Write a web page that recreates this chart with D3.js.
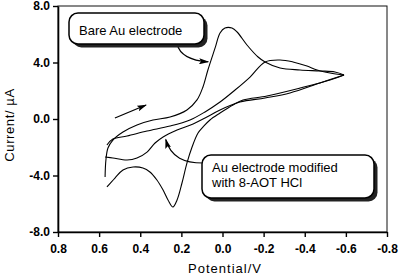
<!DOCTYPE html>
<html>
<head>
<meta charset="utf-8">
<script src="https://cdn.jsdelivr.net/npm/d3@7"></script>
<style>
  body { margin: 0; background: #fff; }
  svg { display: block; font-family: "Liberation Sans", Arial, Helvetica, sans-serif; }
  .tick text { font-size: 12px; font-weight: bold; fill: #000; }
  .curve { fill: none; stroke: #000; stroke-width: 1.1; }
</style>
</head>
<body>
<svg id="chart" width="400" height="278"></svg>
<script>
// tick values and labels
const xTicks = [0.8, 0.6, 0.4, 0.2, 0.0, -0.2, -0.4, -0.6, -0.8];
const xTickLabels = ["0.8", "0.6", "0.4", "0.2", "0.0", "-0.2", "-0.4", "-0.6", "-0.8"];
const yTicks = [8, 4, 0, -4, -8];
const yTickLabels = ["8.0", "4.0", "0.0", "-4.0", "-8.0"];

// [potential V, current uA]
const bareForward = [
  [0.571, -4.11], [0.567, -2.90], [0.557, -2.05], [0.533, -1.49], [0.484, -0.92],
  [0.416, -0.42], [0.338, -0.07], [0.255, 0.14], [0.173, 0.64], [0.124, 1.35],
  [0.095, 2.27], [0.071, 3.47], [0.036, 5.03], [0.012, 6.09], [-0.012, 6.44],
  [-0.046, 6.44], [-0.071, 6.16], [-0.119, 5.24], [-0.173, 4.39], [-0.207, 4.04],
  [-0.280, 3.61], [-0.377, 3.47], [-0.474, 3.40], [-0.547, 3.33], [-0.591, 3.12]
];
const bareReverse = [
  [-0.591, 3.12], [-0.523, 2.76], [-0.377, 2.19], [-0.216, 1.63], [-0.100, 1.34],
  [-0.051, 0.99], [0.012, 0.42], [0.061, -0.07], [0.095, -0.57], [0.119, -0.99],
  [0.148, -1.98], [0.173, -3.12], [0.197, -4.53], [0.221, -5.73], [0.241, -6.23],
  [0.265, -5.73], [0.289, -5.03], [0.319, -4.32], [0.353, -3.75], [0.387, -3.47],
  [0.435, -3.40], [0.484, -3.61], [0.523, -4.18], [0.562, -4.81]
];
const modForward = [
  [0.562, -1.84], [0.533, -1.42], [0.464, -1.20], [0.367, -0.85], [0.255, -0.50],
  [0.158, -0.07], [0.085, 0.50], [0.012, 1.20], [-0.061, 2.05], [-0.134, 2.97],
  [-0.207, 4.04], [-0.280, 4.18], [-0.343, 4.04], [-0.411, 3.75], [-0.460, 3.47],
  [-0.523, 3.26], [-0.591, 3.12]
];
const modReverse = [
  [-0.591, 3.12], [-0.474, 2.55], [-0.328, 1.84], [-0.207, 1.49], [-0.085, 1.20],
  [0.012, 0.64], [0.085, 0.07], [0.143, -0.35], [0.221, -0.78], [0.289, -1.27],
  [0.328, -1.70], [0.367, -2.34], [0.416, -2.76], [0.464, -2.90], [0.533, -2.76],
  [0.571, -2.69]
];

const svg = d3.select("#chart");
const x = d3.scaleLinear().domain([0.8, -0.8]).range([58, 387]);
const y = d3.scaleLinear().domain([-8, 8]).range([232, 6]);

// frame
svg.append("rect")
    .attr("x", x(0.8)).attr("y", y(8))
    .attr("width", x(-0.8) - x(0.8)).attr("height", y(-8) - y(8))
    .attr("fill", "none").attr("stroke", "#111").attr("stroke-width", 1);

const xAxis = svg.append("g")
    .attr("transform", `translate(0,${y(-8)})`)
    .call(d3.axisBottom(x).tickValues(xTicks).tickSize(5).tickSizeOuter(0)
        .tickFormat((d, i) => xTickLabels[i]));
xAxis.selectAll("text").attr("dy", "1.05em");

const yAxis = svg.append("g")
    .attr("transform", `translate(${x(0.8)},0)`)
    .call(d3.axisLeft(y).tickValues(yTicks).tickSize(5).tickSizeOuter(0)
        .tickFormat((d, i) => yTickLabels[i]));

for (const ax of [xAxis, yAxis]) {
    ax.select(".domain").attr("stroke", "#000").attr("stroke-width", 1.6);
    ax.selectAll(".tick line").attr("stroke", "#000").attr("stroke-width", 1.4);
    ax.selectAll(".tick text").attr("font-family", null).attr("font-size", null);
}

svg.append("text")
    .attr("x", 225).attr("y", 273)
    .attr("text-anchor", "middle")
    .attr("font-size", 13).attr("letter-spacing", 1)
    .text("Potential/V");

svg.append("text")
    .attr("transform", "translate(14,125) rotate(-90)")
    .attr("text-anchor", "middle")
    .attr("font-size", 13).attr("letter-spacing", 0.6)
    .text("Current/ µA");

// curves
const line = d3.line()
    .x(d => x(d[0]))
    .y(d => y(d[1]))
    .curve(d3.curveCatmullRom.alpha(0.5));

svg.append("g")
    .selectAll("path")
    .data([bareForward, bareReverse, modForward, modReverse])
    .join("path")
    .attr("class", "curve")
    .attr("d", line);

// arrowhead marker
svg.append("defs").append("marker")
    .attr("id", "head")
    .attr("viewBox", "0 0 10 6")
    .attr("refX", 9).attr("refY", 3)
    .attr("markerWidth", 10).attr("markerHeight", 6)
    .attr("markerUnits", "userSpaceOnUse")
    .attr("orient", "auto")
    .append("path")
    .attr("d", "M0,0 L10,3 L0,6 L2,3 Z")
    .attr("fill", "#000");

// sweep direction arrow
svg.append("line")
    .attr("x1", x(0.523)).attr("y1", y(0.07))
    .attr("x2", x(0.372)).attr("y2", y(0.99))
    .attr("stroke", "#000").attr("stroke-width", 1.3)
    .attr("marker-end", "url(#head)");

// callout boxes
function callout(bx, by, w, h, lines) {
    const g = svg.append("g");
    g.append("rect")
        .attr("x", bx + 3.5).attr("y", by + 3.5).attr("width", w).attr("height", h)
        .attr("rx", 9).attr("fill", "#222");
    g.append("rect")
        .attr("x", bx).attr("y", by).attr("width", w).attr("height", h)
        .attr("rx", 9).attr("fill", "#fff").attr("stroke", "#000").attr("stroke-width", 1.5);
    g.selectAll("text")
        .data(lines)
        .join("text")
        .attr("x", bx + 10)
        .attr("y", (d, i) => by + (lines.length > 1 ? 17 : 22) + i * 14.5)
        .attr("font-size", 13)
        .text(d => d);
}

// pointer from bare label
const bareTip = [x(0.07), y(4.05)];
svg.append("path")
    .attr("d", `M177,44 Q181,60 ${bareTip[0]},${bareTip[1]}`)
    .attr("fill", "none").attr("stroke", "#000").attr("stroke-width", 1.1)
    .attr("marker-end", "url(#head)");

// pointer from modified label
const modTip = [x(0.276), y(-1.45)];
svg.append("path")
    .attr("d", `M203,163 C185,163 171,158 ${modTip[0]},${modTip[1]}`)
    .attr("fill", "none").attr("stroke", "#000").attr("stroke-width", 1.1)
    .attr("marker-end", "url(#head)");

callout(69, 13, 135, 31, ["Bare Au electrode"]);
callout(202, 155, 172, 43, ["Au electrode modified", "with 8-AOT HCl"]);
</script>
</body>
</html>
